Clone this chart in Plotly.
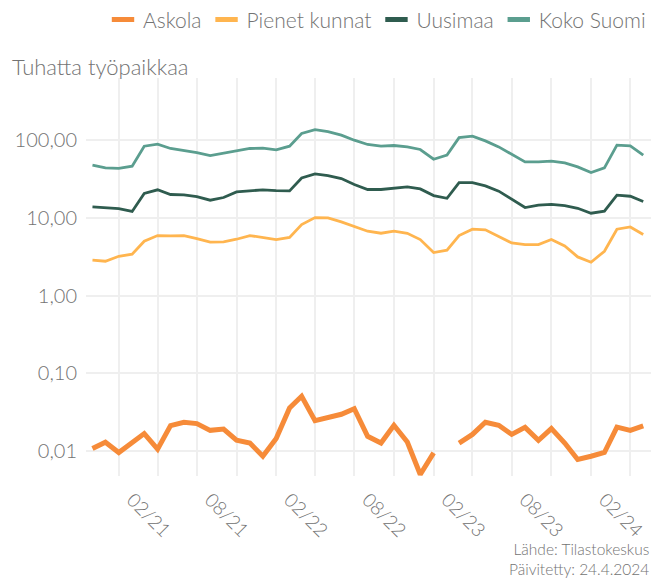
import plotly.graph_objects as go
import pandas as pd

dates = pd.date_range("2020-11-01", periods=43, freq="MS")

askola = [0.0108, 0.0130, 0.0096, 0.0127, 0.0168, 0.0106, 0.0213, 0.0235, 0.0226, 0.0185,
          0.0192, 0.0138, 0.0127, 0.0086, 0.0145, 0.0359, 0.0507, 0.0247, 0.0267, 0.0298,
          0.0352, 0.0155, 0.0127, 0.0215, 0.0131, 0.0050, 0.0095, None, 0.0127, 0.0164,
          0.0235, 0.0215, 0.0164, 0.0202, 0.0138, 0.0195, 0.0127, 0.0078, 0.0086, 0.0096,
          0.0204, 0.0185, 0.0211]
pienet = [2.86, 2.77, 3.21, 3.41, 5.01, 5.93, 5.87, 5.93, 5.43, 4.87,
          4.91, 5.32, 5.93, 5.60, 5.27, 5.60, 8.22, 10.1, 10.0, 8.89,
          7.74, 6.74, 6.35, 6.74, 6.35, 5.27, 3.59, 3.84, 5.93, 7.16,
          7.02, 5.81, 4.77, 4.54, 4.54, 5.27, 4.36, 3.15, 2.69, 3.73,
          7.16, 7.66, 6.11]
uusimaa = [13.9, 13.6, 13.2, 12.1, 20.6, 23.0, 20.0, 19.8, 18.8, 16.9,
           18.3, 21.6, 22.3, 23.0, 22.5, 22.3, 32.7, 36.8, 35.1, 32.1,
           26.9, 23.2, 23.2, 24.3, 25.1, 23.6, 19.4, 17.9, 28.5, 28.5,
           25.8, 22.1, 17.4, 13.6, 14.6, 14.9, 14.4, 13.3, 11.5, 12.2,
           19.6, 19.0, 16.3]
koko = [47.7, 44.0, 43.3, 46.3, 83.7, 89.0, 78.2, 74.3, 69.4, 63.5,
        68.1, 74.3, 78.2, 78.9, 75.0, 83.7, 122, 137, 129, 116,
        100, 88.0, 84.0, 85.4, 82.0, 75.9, 56.9, 64.2, 108, 112.5,
        98.0, 82.0, 65.5, 52.6, 52.6, 53.7, 51.1, 45.4, 38.4, 44.0,
        86.3, 84.5, 64.2]

series_names = ["Askola", "Pienet kunnat", "Uusimaa", "Koko Suomi"]
series_values = [askola, pienet, uusimaa, koko]
colors = ["#f68b39", "#ffb54f", "#2f5c4f", "#5b9e8f"]
widths = [5, 2.8, 2.8, 2.8]

tick_dates = ["2021-02-01", "2021-08-01", "2022-02-01", "2022-08-01",
              "2023-02-01", "2023-08-01", "2024-02-01"]
tick_labels = ["02/21", "08/21", "02/22", "08/22", "02/23", "08/23", "02/24"]
y_ticks = [0.01, 0.1, 1, 10, 100]

FONT = "Lato Light, Lato"
GRAY = "#737373"

fig = go.Figure()
for name, vals, c, w in zip(series_names, series_values, colors, widths):
    fig.add_trace(go.Scatter(x=dates, y=vals, name=name, mode="lines", legendgroup=name,
                             showlegend=False,
                             line=dict(color=c, width=w), connectgaps=False))
# legend keys: short thick dashes, as in the reference
for name, c in zip(series_names, colors):
    fig.add_trace(go.Scatter(x=[None], y=[None], name=name, mode="markers", legendgroup=name,
                             marker=dict(symbol="line-ew-open", size=16, color=c,
                                         line=dict(color=c, width=5))))

fig.update_layout(
    width=651, height=578,
    margin=dict(l=86, r=0, t=78, b=102, autoexpand=False),
    plot_bgcolor="white", paper_bgcolor="white",
    font=dict(family=FONT, color=GRAY, size=20, weight=300),
    separators=", ",
    showlegend=True,
    legend=dict(orientation="h", x=1.0, xanchor="right", y=1.146, yanchor="middle",
                font=dict(size=21, color=GRAY, family=FONT, weight=300),
                itemwidth=30, tracegroupgap=0),
    xaxis=dict(type="date", range=["2020-10-17", "2024-05-19"],
               tickvals=tick_dates, ticktext=tick_labels, tickangle=45,
               showgrid=False, zeroline=False, showline=False, ticks="",
               ticklabelstandoff=8,
               tickfont=dict(size=19, color=GRAY, family=FONT, weight=300),
               minor=dict(tick0="2021-01-01", dtick="M3", showgrid=True,
                          gridcolor="#efefef", gridwidth=1.5, ticks="")),
    yaxis=dict(type="log", range=[-2.32, 2.80], tickvals=y_ticks, tickformat=".2f",
               showgrid=True, gridcolor="#efefef", gridwidth=1.5, zeroline=False,
               showline=False, ticks="", ticklabelstandoff=8,
               tickfont=dict(size=20, color=GRAY, family=FONT, weight=300)),
    annotations=[
        dict(text="Tuhatta työpaikkaa", xref="paper", yref="paper",
             x=-0.1345, y=1.028, xanchor="left", yanchor="middle", showarrow=False,
             font=dict(size=22, color=GRAY, family=FONT, weight=300)),
        dict(text="Lähde: Tilastokeskus<br>Päivitetty: 24.4.2024", xref="paper", yref="paper",
             x=1.0, y=-0.208, xanchor="right", yanchor="middle", align="right",
             showarrow=False, font=dict(size=15.5, color=GRAY, family=FONT, weight=300)),
    ],
)

fig.write_html("out.html", config={"displayModeBar": False},
               post_script="document.body.style.margin='0';document.body.style.padding='0';")
